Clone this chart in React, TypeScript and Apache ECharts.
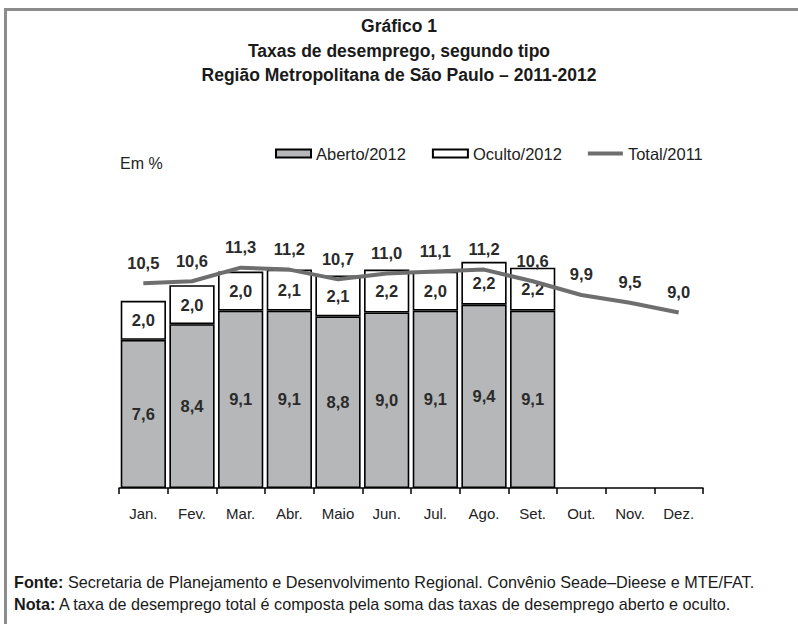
import React, { useEffect, useRef } from "react";
import * as echarts from "echarts";

const categories = ["Jan.", "Fev.", "Mar.", "Abr.", "Maio", "Jun.", "Jul.", "Ago.", "Set.", "Out.", "Nov.", "Dez."];
const aberto2012 = [7.6, 8.4, 9.1, 9.1, 8.8, 9.0, 9.1, 9.4, 9.1];
const oculto2012 = [2.0, 2.0, 2.0, 2.1, 2.1, 2.2, 2.0, 2.2, 2.2];
const total2011 = [10.5, 10.6, 11.3, 11.2, 10.7, 11.0, 11.1, 11.2, 10.6, 9.9, 9.5, 9.0];

const titleLines = [
  "Gráfico 1",
  "Taxas de desemprego, segundo tipo",
  "Região Metropolitana de São Paulo – 2011-2012",
];
const fonteLabel = "Fonte:";
const fonteText = " Secretaria de Planejamento e Desenvolvimento Regional. Convênio Seade–Dieese e MTE/FAT.";
const notaLabel = "Nota:";
const notaText = " A taxa de desemprego total é composta pela soma das taxas de desemprego aberto e oculto.";

const NARROW = "'Liberation Sans Narrow', 'Arial Narrow', 'Liberation Sans', Arial, sans-serif";
const SANS = "'Liberation Sans', Arial, sans-serif";

const fmt = (p: any) => {
  const v = Array.isArray(p.value) ? p.value[1] : p.value;
  return v == null ? "" : Number(v).toFixed(1).replace(".", ",");
};

export default function App() {
  const ref = useRef<HTMLDivElement>(null);
  useEffect(() => {
    if (!ref.current) return;
    const chart = echarts.init(ref.current, undefined, { renderer: "svg" });
    const valueLabel = {
      show: true,
      formatter: fmt,
      fontFamily: SANS,
      fontWeight: "bold",
      fontSize: 16.5,
      color: "#2a2a2a",
    };
    chart.setOption({
      animation: false,
      backgroundColor: "#ffffff",
      graphic: [
        {
          type: "rect",
          shape: { x: 5.5, y: 9.5, width: 900, height: 700 },
          style: { fill: "none", stroke: "#8c8c8c", lineWidth: 3 },
          silent: true,
        },
        ...titleLines.map((t, i) => ({
          type: "text",
          x: 399,
          y: 26 + i * 24.5,
          style: {
            text: t,
            font: `bold 17.5px ${NARROW}`,
            fill: "#1a1a1a",
            align: "center",
            verticalAlign: "middle",
          },
        })),
        {
          type: "text",
          x: 120,
          y: 163,
          style: { text: "Em %", font: `16px ${SANS}`, fill: "#222", verticalAlign: "middle" },
        },
        {
          type: "text",
          x: 14,
          y: 582,
          style: {
            text: `{b|${fonteLabel}}{r|${fonteText}}`,
            verticalAlign: "middle",
            rich: {
              b: { font: `bold 16.2px ${NARROW}`, fill: "#1a1a1a" },
              r: { font: `16.2px ${NARROW}`, fill: "#1a1a1a" },
            },
          },
        },
        {
          type: "text",
          x: 14,
          y: 604,
          style: {
            text: `{b|${notaLabel}}{r|${notaText}}`,
            verticalAlign: "middle",
            rich: {
              b: { font: `bold 16.2px ${NARROW}`, fill: "#1a1a1a" },
              r: { font: `16.2px ${NARROW}`, fill: "#1a1a1a" },
            },
          },
        },
      ],
      legend: {
        left: 270,
        top: 140,
        itemWidth: 35,
        itemHeight: 8,
        itemGap: 26,
        textStyle: { fontFamily: SANS, fontSize: 16.5, color: "#222" },
        data: [
          { name: "Aberto/2012", icon: "rect" },
          { name: "Oculto/2012", icon: "rect" },
          {
            name: "Total/2011",
            icon: "path://M0,0 L35,0 L35,4 L0,4 Z",
            itemStyle: { color: "#6e6e6e", borderWidth: 0 },
          },
        ],
      },
      grid: { left: 119, width: 584, top: 215, height: 273 },
      xAxis: {
        type: "category",
        data: categories,
        boundaryGap: true,
        axisLine: { lineStyle: { color: "#000", width: 1.5 } },
        axisTick: { show: true, length: 6, lineStyle: { color: "#000", width: 1.5 } },
        axisLabel: { color: "#222", fontFamily: SANS, fontSize: 15, margin: 18 },
      },
      yAxis: {
        type: "value",
        min: 0,
        max: 14,
        show: false,
        splitLine: { show: false },
      },
      series: [
        {
          name: "Aberto/2012",
          type: "bar",
          stack: "t",
          data: aberto2012,
          barCategoryGap: "7%",
          itemStyle: { color: "#b6b7b9", borderColor: "#000", borderWidth: 1.6 },
          label: { ...valueLabel, position: "inside" },
          z: 2,
        },
        {
          name: "Oculto/2012",
          type: "bar",
          stack: "t",
          data: oculto2012,
          barCategoryGap: "7%",
          itemStyle: { color: "#ffffff", borderColor: "#000", borderWidth: 1.6 },
          label: { ...valueLabel, position: "inside" },
          z: 2,
        },
        {
          name: "Total/2011",
          type: "line",
          data: total2011,
          symbol: "circle",
          symbolSize: 0.1,
          showSymbol: true,
          lineStyle: { color: "#6e6e6e", width: 4 },
          itemStyle: { color: "#6e6e6e" },
          label: { ...valueLabel, position: "top", distance: 12 },
          z: 5,
        },
      ],
    });
    return () => chart.dispose();
  }, []);
  return (
    <div style={{ position: "fixed", left: 0, top: 0, width: 798, height: 624, background: "#fff" }}>
      <div ref={ref} style={{ width: 798, height: 624 }} />
    </div>
  );
}
